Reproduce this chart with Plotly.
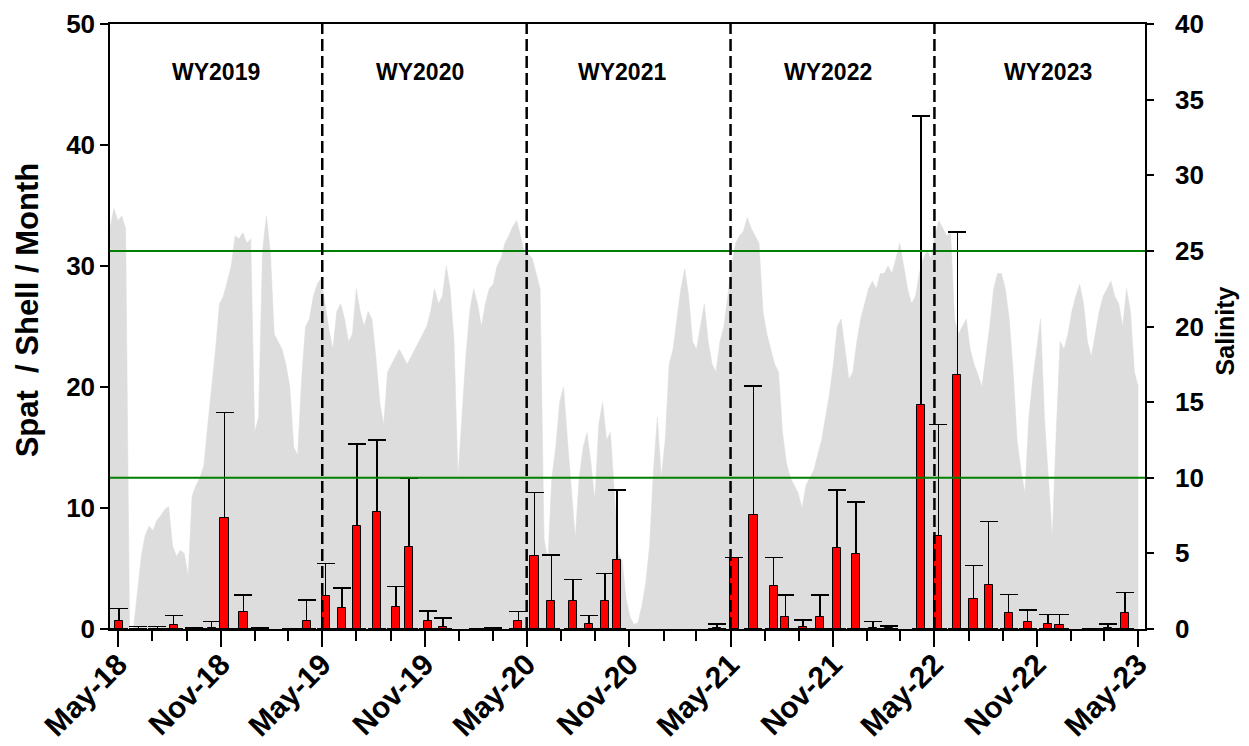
import pandas as pd
import plotly.graph_objects as go

# ---------------- data ----------------
# Salinity (weekly readings, starting 2018-04-16)
sal_start = "2018-04-16"
salinity = [26.5, 27.8, 27.0, 27.3, 26.5, 0.0, 0.0, 2.5, 4.8, 6.2,
            6.8, 6.5, 7.2, 7.5, 7.9, 8.1, 5.5, 4.8, 5.2, 5.0,
            3.5, 8.8, 9.5, 10.0, 10.8, 13.5, 16.0, 18.5, 21.5, 22.0,
            23.0, 24.0, 26.0, 25.8, 26.2, 25.5, 25.8, 13.0, 14.0, 25.0,
            27.3, 25.0, 19.5, 19.0, 18.5, 17.5, 16.0, 12.0, 11.5, 16.5,
            20.0, 20.5, 22.0, 22.8, 23.2, 21.5, 19.8, 18.5, 21.0, 21.5,
            20.5, 19.0, 19.5, 22.5, 21.0, 20.0, 21.0, 20.5, 18.0, 15.0,
            13.5, 17.0, 17.5, 18.0, 18.5, 18.0, 17.5, 18.0, 18.5, 19.0,
            19.5, 20.0, 21.0, 22.5, 21.5, 22.0, 24.0, 22.5, 19.0, 10.0,
            14.0, 18.0, 21.0, 22.5, 21.5, 20.0, 21.5, 22.5, 22.8, 24.0,
            24.5, 25.5, 26.0, 26.6, 27.0, 26.0, 24.8, 24.8, 24.5, 23.5,
            22.5, 6.0, 4.5, 10.0, 12.0, 15.0, 16.0, 12.5, 9.0, 6.0,
            10.0, 12.0, 13.0, 11.0, 8.5, 13.5, 15.0, 12.5, 13.0, 9.0,
            5.0, 4.5, 2.0, 0.8, 0.3, 0.4, 1.5, 3.0, 5.5, 10.5,
            14.0, 10.0, 12.5, 17.5, 18.5, 20.5, 22.5, 23.8, 22.0, 19.0,
            18.5, 20.0, 21.5, 19.0, 17.5, 17.0, 19.0, 20.0, 22.0, 24.0,
            25.5, 26.0, 26.3, 27.2, 26.5, 26.0, 25.5, 21.0, 19.5, 18.5,
            17.5, 17.0, 13.0, 11.0, 10.0, 9.5, 9.0, 8.0, 9.5, 10.0,
            10.5, 11.5, 12.5, 14.0, 15.5, 17.5, 20.0, 20.5, 18.5, 16.5,
            17.0, 19.0, 20.5, 21.5, 22.5, 23.0, 22.5, 23.5, 23.5, 24.0,
            23.5, 24.5, 25.5, 24.0, 22.5, 21.5, 22.0, 23.5, 24.5, 25.0,
            24.5, 26.0, 27.0, 26.5, 26.0, 26.2, 20.5, 19.5, 20.0, 20.5,
            18.5, 17.5, 16.8, 16.0, 18.0, 20.0, 22.5, 23.5, 23.5, 22.5,
            20.5, 17.0, 12.5, 10.5, 9.0, 14.0, 16.5, 18.5, 20.5, 14.0,
            10.0, 6.0, 13.0, 19.0, 18.5, 19.5, 21.0, 22.0, 22.8, 21.5,
            19.0, 18.0, 19.5, 21.0, 22.0, 22.5, 23.0, 22.0, 21.5, 20.0,
            22.5, 21.0, 17.0, 16.0]
sal_dates = pd.date_range(start=sal_start, periods=len(salinity), freq="7D")

# Spat per shell per month (sampling dates, mean, mean + error)
spat_dates = ["2018-05-02", "2018-06-06", "2018-07-10", "2018-08-08", "2018-09-13",
              "2018-10-15", "2018-11-07", "2018-12-11", "2019-01-09", "2019-03-06",
              "2019-04-03", "2019-05-07", "2019-06-05", "2019-07-02", "2019-08-07",
              "2019-09-10", "2019-10-03", "2019-11-06", "2019-12-03", "2020-02-04",
              "2020-03-02", "2020-04-16", "2020-05-15", "2020-06-14", "2020-07-23",
              "2020-08-21", "2020-09-18", "2020-10-10", "2021-04-07", "2021-05-08",
              "2021-06-11", "2021-07-17", "2021-08-07", "2021-09-08", "2021-10-08",
              "2021-11-08", "2021-12-12", "2022-01-11", "2022-02-09", "2022-04-07",
              "2022-05-08", "2022-06-11", "2022-07-10", "2022-08-06", "2022-09-11",
              "2022-10-15", "2022-11-20", "2022-12-11", "2023-02-05", "2023-03-08",
              "2023-04-07"]
spat_mean = [0.7, 0.0, 0.0, 0.3, 0.0, 0.1, 9.2, 1.4, 0.0, 0.0,
             0.7, 2.7, 1.7, 8.5, 9.7, 1.8, 6.8, 0.66, 0.2, 0.0,
             0.0, 0.7, 6.0, 2.3, 2.3, 0.4, 2.3, 5.7, 0.1, 5.9,
             9.4, 3.55, 1.0, 0.2, 1.0, 6.7, 6.2, 0.1, 0.05, 18.5,
             7.7, 21.0, 2.48, 3.66, 1.3, 0.55, 0.41, 0.35, 0.0, 0.05,
             1.3]
spat_upper = [1.7, 0.2, 0.2, 1.1, 0.1, 0.6, 17.9, 2.8, 0.1, 0.05,
              2.4, 5.4, 3.4, 15.3, 15.6, 3.5, 12.5, 1.5, 0.9, 0.05,
              0.1, 1.45, 11.3, 6.1, 4.1, 1.1, 4.6, 11.5, 0.4, None,
              20.1, 5.9, 2.8, 0.74, 2.8, 11.5, 10.5, 0.6, 0.25, 42.4,
              16.9, 32.8, 5.26, 8.87, 2.84, 1.57, 1.2, 1.2, 0.05, 0.4,
              3.0]

salinity_limits = [10, 25]
wy_boundaries = ["2019-05-01", "2020-05-01", "2021-05-01", "2022-05-01"]
wy_labels = ["WY2019", "WY2020", "WY2021", "WY2022", "WY2023"]
wy_label_x = ["2018-10-22", "2019-10-23", "2020-10-19", "2021-10-23", "2022-11-21"]

# ---------------- figure ----------------
FONT = "Arial, Liberation Sans, sans-serif"
err_plus = [None if u is None else u - m for u, m in zip(spat_upper, spat_mean)]
err_minus = [None if u is None else m for u, m in zip(spat_upper, spat_mean)]
bar_w = 14.5 * 86400000

fig = go.Figure()

fig.add_trace(go.Scatter(
    x=sal_dates, y=salinity, mode="lines", fill="tozeroy",
    fillcolor="rgb(221,221,221)", line=dict(color="rgb(221,221,221)", width=0.5),
    yaxis="y", hoverinfo="skip"))

# error bars (drawn beneath the red bars)
fig.add_trace(go.Bar(
    x=spat_dates, y=spat_mean, width=bar_w, yaxis="y2",
    marker=dict(color="rgba(0,0,0,0)", line=dict(width=0)),
    error_y=dict(type="data", symmetric=False, array=err_plus, arrayminus=err_minus,
                 color="black", thickness=1.5, width=9)))

fig.add_trace(go.Bar(
    x=spat_dates, y=spat_mean, width=bar_w, yaxis="y2",
    marker=dict(color="rgb(255,0,0)", line=dict(color="black", width=1))))

shapes = []
for v in salinity_limits:
    shapes.append(dict(type="line", xref="paper", x0=0, x1=1, yref="y", y0=v, y1=v,
                       line=dict(color="rgb(0,128,0)", width=2), layer="above"))
for d in wy_boundaries:
    shapes.append(dict(type="line", xref="x", x0=d, x1=d, yref="paper", y0=0, y1=1,
                       line=dict(color="black", width=2.5, dash="12px,5px"), layer="above"))

annotations = [dict(x=xd, y=0.945, xref="x", yref="paper", text=t, showarrow=False,
                    font=dict(family=FONT, size=23, color="black", weight="bold"))
               for xd, t in zip(wy_label_x, wy_labels)]
# axis titles
annotations.append(dict(x=-0.080, y=0.527, xref="paper", yref="paper",
                        text="Spat \u00a0/ Shell / Month", textangle=-90, showarrow=False,
                        xanchor="center", yanchor="middle",
                        font=dict(family=FONT, size=31, color="black", weight="bold")))
annotations.append(dict(x=1.077, y=0.493, xref="paper", yref="paper",
                        text="Salinity", textangle=-90, showarrow=False,
                        xanchor="center", yanchor="middle",
                        font=dict(family=FONT, size=25, color="black", weight="bold")))

ytickfont = dict(family=FONT, size=26, color="black", weight="bold")
xtickfont = dict(family=FONT, size=30, color="black", weight="bold")

# the page body adds an 8px offset; the figure is sized so the plot area lands
# at x 110..1145, y 24..629 in the 1249x746 window
fig.update_layout(
    width=1241, height=738,
    margin=dict(l=102, r=104, t=16, b=117, autoexpand=False),
    plot_bgcolor="white", paper_bgcolor="white",
    showlegend=False, barmode="overlay", bargap=0,
    shapes=shapes, annotations=annotations,
    xaxis=dict(type="date", range=["2018-04-16", "2023-05-13"], automargin=False,
               tick0="2018-05-01", dtick="M6", tickformat="%b-%y", tickangle=-45,
               ticks="outside", ticklen=16, tickwidth=1.5, tickcolor="black",
               showline=True, linecolor="black", linewidth=1.5, mirror=True,
               showgrid=False, zeroline=False, tickfont=xtickfont, ticklabelstandoff=-12,
               minor=dict(tick0="2018-05-01", dtick="M2", ticks="outside", ticklen=10,
                          tickwidth=1.5, tickcolor="black", showgrid=False)),
    yaxis=dict(side="right", range=[0, 40], dtick=5, ticks="outside", ticklen=7,
               tickwidth=1.5, tickcolor="black", showline=True, linecolor="black",
               linewidth=1.5, showgrid=False, zeroline=False, tickfont=ytickfont,
               automargin=False, ticklabelstandoff=16),
    yaxis2=dict(overlaying="y", side="left", range=[0, 50], dtick=10, ticks="outside",
                ticklen=8, tickwidth=1.5, tickcolor="black", showline=True,
                linecolor="black", linewidth=1.5, showgrid=False, zeroline=False,
                tickfont=ytickfont, automargin=False),
)

fig.write_html("out.html")
